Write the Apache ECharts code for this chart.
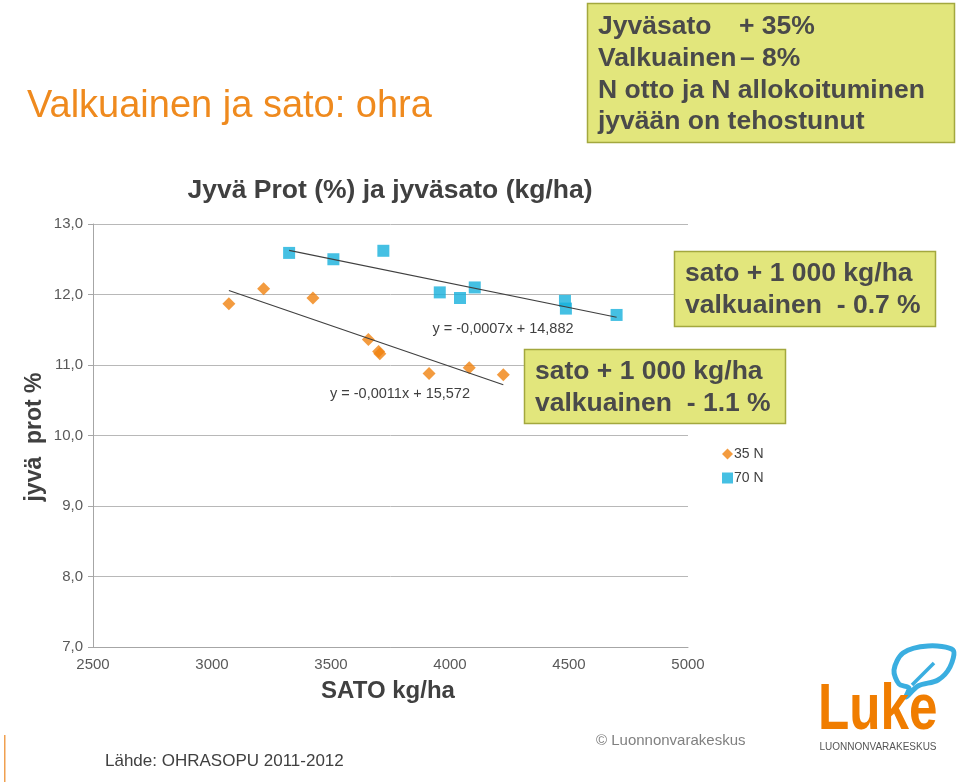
<!DOCTYPE html>
<html>
<head>
<meta charset="utf-8">
<script src="https://cdn.jsdelivr.net/npm/echarts@6/dist/echarts.min.js"></script>
<style>
html,body{margin:0;padding:0;background:#fff;}
#chart{width:960px;height:782px;}
</style>
</head>
<body>
<div id="chart"></div>
<script>
// ---- data ----
const sato35 = [3071, 3217, 3424, 3657, 3700, 3705, 3912, 4081, 4224];
const prot35 = [11.87, 12.08, 11.95, 11.36, 11.19, 11.16, 10.88, 10.96, 10.86];
const sato70 = [3324, 3510, 3720, 3957, 4042, 4104, 4483, 4487, 4700];
const prot70 = [12.59, 12.50, 12.62, 12.03, 11.95, 12.10, 11.91, 11.80, 11.71];
const seriesNames = ['35 N', '70 N'];
const eqLabels = ['y = -0,0011x + 15,572', 'y = -0,0007x + 14,882'];
const xTicks = [2500, 3000, 3500, 4000, 4500, 5000];
const yTicks = [7, 8, 9, 10, 11, 12, 13];

function pairs(xs, ys) { return xs.map((x, i) => [x, ys[i]]); }
function trend(xs, ys) {
  const n = xs.length;
  const mx = xs.reduce((a, b) => a + b, 0) / n;
  const my = ys.reduce((a, b) => a + b, 0) / n;
  let sxy = 0, sxx = 0;
  for (let i = 0; i < n; i++) { sxy += (xs[i] - mx) * (ys[i] - my); sxx += (xs[i] - mx) ** 2; }
  const b = sxy / sxx, a = my - b * mx;
  const x0 = Math.min(...xs), x1 = Math.max(...xs);
  return [[x0, a + b * x0], [x1, a + b * x1]];
}

const FONT = '"Liberation Sans", Arial, sans-serif';
const ORANGE = '#f0820f';
const BLUE = '#17b0dc';
const BOXFILL = '#e2e67c';
const BOXLINE = '#a3a83e';
const BOXTEXT = '#4a4a4a';

const chart = echarts.init(document.getElementById('chart'), null, {renderer: 'canvas'});

function boxText(x, y, txt) {
  return {type: 'text', x: x, y: y, z: 101,
    style: {text: txt, font: 'bold 26.5px ' + FONT, fill: BOXTEXT, textVerticalAlign: 'middle', textAlign: 'left'}};
}

const option = {
  backgroundColor: '#ffffff',
  animation: false,
  textStyle: {fontFamily: FONT},
  grid: {left: 93, top: 224, width: 595, bottom: 135, containLabel: false},
  xAxis: {
    type: 'value', min: xTicks[0], max: xTicks[xTicks.length - 1], interval: 500,
    axisLine: {show: true, lineStyle: {color: '#a6a6a6', width: 1}},
    axisTick: {show: false},
    splitLine: {show: false},
    axisLabel: {color: '#595959', fontSize: 15, margin: 10, fontFamily: FONT,
      formatter: v => String(v)}
  },
  yAxis: {
    type: 'value', min: yTicks[0], max: yTicks[yTicks.length - 1], interval: 1,
    axisLine: {show: true, lineStyle: {color: '#a6a6a6', width: 1}},
    axisTick: {show: true, length: 5, lineStyle: {color: '#a6a6a6'}},
    splitLine: {show: true, lineStyle: {color: '#b8b8b8', width: 1}},
    axisLabel: {color: '#595959', fontSize: 15, margin: 10, fontFamily: FONT,
      formatter: v => v.toFixed(1).replace('.', ',')}
  },
  legend: {
    orient: 'vertical', left: 717, top: 442, itemWidth: 11, itemHeight: 11, itemGap: 10,
    textStyle: {color: '#404040', fontSize: 14, fontFamily: FONT, padding: [0, 0, 0, -4]},
    data: [{name: seriesNames[0], icon: 'diamond'}, {name: seriesNames[1], icon: 'rect'}]
  },
  series: [
    {name: seriesNames[0], type: 'scatter', symbol: 'diamond', symbolSize: 13,
      itemStyle: {color: ORANGE}, data: pairs(sato35, prot35), z: 3},
    {name: seriesNames[1], type: 'scatter', symbol: 'rect', symbolSize: 12,
      itemStyle: {color: BLUE}, data: pairs(sato70, prot70), z: 3},
    {name: 'trend35', type: 'line', data: trend(sato35, prot35), symbol: 'none',
      lineStyle: {color: '#404040', width: 1.2}, z: 4, silent: true},
    {name: 'trend70', type: 'line', data: trend(sato70, prot70), symbol: 'none',
      lineStyle: {color: '#404040', width: 1.2}, z: 4, silent: true}
  ],
  graphic: [
    // main title
    {type: 'text', x: 27, y: 107, style: {text: 'Valkuainen ja sato: ohra', font: '38px ' + FONT, fill: '#ef8a1e', textVerticalAlign: 'middle'}},
    // top-right box
    {type: 'rect', z: 100, shape: {x: 587.5, y: 3.5, width: 367, height: 139}, style: {fill: BOXFILL, stroke: BOXLINE, lineWidth: 1.5}},
    boxText(598, 27, 'Jyväsato'), boxText(739, 27, '+ 35%'),
    boxText(598, 59, 'Valkuainen'), boxText(740, 59, '– 8%'),
    boxText(598, 91, 'N otto ja N allokoituminen'),
    boxText(598, 122, 'jyvään on tehostunut'),
    // chart title
    {type: 'text', x: 390, y: 191, style: {text: 'Jyvä Prot (%) ja jyväsato (kg/ha)', font: 'bold 26.5px ' + FONT, fill: '#404040', textAlign: 'center', textVerticalAlign: 'middle'}},
    // y axis name
    {type: 'text', x: 35, y: 437, rotation: Math.PI / 2, style: {text: 'jyvä  prot %', font: 'bold 23px ' + FONT, fill: '#404040', textAlign: 'center', textVerticalAlign: 'middle'}},
    // x axis name
    {type: 'text', x: 388, y: 691, style: {text: 'SATO kg/ha', font: 'bold 24px ' + FONT, fill: '#404040', textAlign: 'center', textVerticalAlign: 'middle'}},
    // equation labels
    {type: 'text', x: 503, y: 329, z: 50, style: {text: eqLabels[1], font: '14.5px ' + FONT, fill: '#404040', textAlign: 'center', textVerticalAlign: 'middle'}},
    {type: 'text', x: 400, y: 394, z: 50, style: {text: eqLabels[0], font: '14.5px ' + FONT, fill: '#404040', textAlign: 'center', textVerticalAlign: 'middle'}},
    // annotation box 70 N
    {type: 'rect', z: 100, shape: {x: 674.5, y: 251.5, width: 261, height: 75}, style: {fill: BOXFILL, stroke: BOXLINE, lineWidth: 1.5}},
    boxText(685, 274, 'sato + 1 000 kg/ha'),
    boxText(685, 306, 'valkuainen  - 0.7 %'),
    // annotation box 35 N
    {type: 'rect', z: 100, shape: {x: 524.5, y: 349.5, width: 261, height: 74}, style: {fill: BOXFILL, stroke: BOXLINE, lineWidth: 1.5}},
    boxText(535, 372, 'sato + 1 000 kg/ha'),
    boxText(535, 404, 'valkuainen  - 1.1 %'),
    // footer
    {type: 'rect', shape: {x: 4, y: 735, width: 1.5, height: 47}, style: {fill: '#f0a050'}},
    {type: 'text', x: 105, y: 761, style: {text: 'Lähde: OHRASOPU 2011-2012', font: '17px ' + FONT, fill: '#404040', textVerticalAlign: 'middle'}},
    {type: 'text', x: 596, y: 741, style: {text: '© Luonnonvarakeskus', font: '15px ' + FONT, fill: '#808080', textVerticalAlign: 'middle'}},
    // Luke logo
    {type: 'polygon', shape: {points: [[953, 650], [928, 646], [903, 653], [894, 670], [899, 684], [909, 688], [906, 697], [918, 686], [938, 680], [950, 667]], smooth: 0.3},
      style: {fill: 'none', stroke: '#3aaee0', lineWidth: 5, lineJoin: 'round'}},
    {type: 'line', shape: {x1: 912, y1: 685, x2: 934, y2: 663}, style: {stroke: '#3aaee0', lineWidth: 3.5}},
    {type: 'text', x: 818, y: 711, scaleX: 0.8, scaleY: 1, originX: 0, originY: 0,
      style: {text: 'Luke', font: 'bold 64px ' + FONT, fill: '#f07d00', textVerticalAlign: 'middle'}},
    {type: 'text', x: 878, y: 747, style: {text: 'LUONNONVARAKESKUS', font: '10px ' + FONT, fill: '#555555', textAlign: 'center', textVerticalAlign: 'middle'}}
  ]
};
chart.setOption(option);
</script>
</body>
</html>
